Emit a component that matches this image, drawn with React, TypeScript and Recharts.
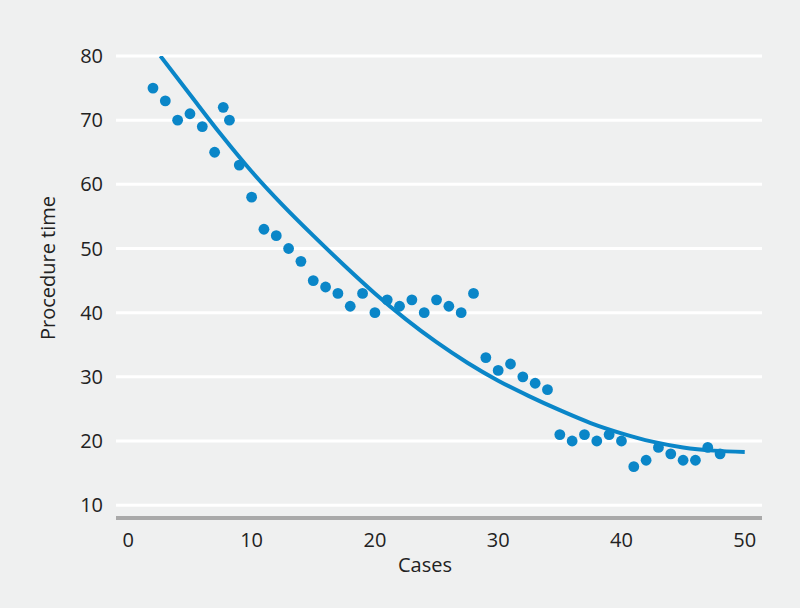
import {
  ComposedChart,
  Scatter,
  Line,
  XAxis,
  YAxis,
  CartesianGrid,
} from "recharts";

// observed cases (x) and procedure times (y)
const cases = [
  2, 3, 4, 5, 6, 7, 7.7, 8.2, 9, 10, 11, 12, 13, 14, 15, 16, 17, 18, 19, 20,
  21, 22, 23, 24, 25, 26, 27, 28, 29, 30, 31, 32, 33, 34, 35, 36, 37, 38, 39,
  40, 41, 42, 43, 44, 45, 46, 47, 48,
];
const times = [
  75, 73, 70, 71, 69, 65, 72, 70, 63, 58, 53, 52, 50, 48, 45, 44, 43, 41, 43,
  40, 42, 41, 42, 40, 42, 41, 40, 43, 33, 31, 32, 30, 29, 28, 21, 20, 21, 20,
  21, 20, 16, 17, 19, 18, 17, 17, 19, 18,
];

// trend curve
const trendCases = [
  2.6, 5, 7.5, 10, 12.5, 15, 17.5, 20, 22.5, 25, 27.5, 30, 32.5, 35, 37.5, 40,
  42.5, 45, 47.5, 50,
];
const trendTimes = [
  80, 74, 67.8, 62, 56.8, 52, 47.4, 43, 39, 35.4, 32.2, 29.4, 27, 24.8, 22.8,
  21.2, 19.9, 19, 18.5, 18.3,
];

const xTicks = [0, 10, 20, 30, 40, 50];
const yTicks = [10, 20, 30, 40, 50, 60, 70, 80];

const BLUE = "#0a86c8";
const TEXT = "#222";
const FONT = '"Open Sans", sans-serif';

const points = cases.map((x, i) => ({ x, y: times[i] }));
const trend = trendCases.map((x, i) => ({ x, y: trendTimes[i] }));

export default function App() {
  return (
    <div
      style={{
        position: "absolute",
        left: 0,
        top: 0,
        width: 800,
        height: 608,
        background: "#eff0f0",
        fontFamily: FONT,
      }}
    >
      <ComposedChart
        width={800}
        height={608}
        margin={{ top: 56, right: 38, bottom: 30, left: 0 }}
      >
        <CartesianGrid vertical={false} stroke="#ffffff" strokeWidth={3} />
        <XAxis
          type="number"
          dataKey="x"
          domain={[-1, 51.4]}
          ticks={xTicks}
          allowDataOverflow
          tickLine={false}
          tickMargin={9}
          height={60}
          axisLine={{ stroke: "#a9a9a9", strokeWidth: 4 }}
          tick={{ fill: TEXT, fontSize: 20, fontFamily: FONT }}
          label={{
            content: ({ viewBox }: any) => (
              <text
                x={viewBox.x + 309}
                y={viewBox.y + 54}
                textAnchor="middle"
                fill={TEXT}
                fontSize={20}
                fontFamily={FONT}
              >
                Cases
              </text>
            ),
          }}
        />
        <YAxis
          type="number"
          dataKey="y"
          domain={[8, 80]}
          ticks={yTicks}
          allowDataOverflow
          width={116}
          tickLine={false}
          axisLine={false}
          tickMargin={7}
          tick={{ fill: TEXT, fontSize: 20, fontFamily: FONT }}
          label={{
            content: ({ viewBox }: any) => (
              <text
                x={viewBox.x + 47}
                y={viewBox.y + 212}
                transform={`rotate(-90, ${viewBox.x + 47}, ${viewBox.y + 212})`}
                textAnchor="middle"
                dominantBaseline="central"
                fill={TEXT}
                fontSize={20}
                fontFamily={FONT}
              >
                Procedure time
              </text>
            ),
          }}
        />
        <Scatter
          data={points}
          dataKey="y"
          fill={BLUE}
          isAnimationActive={false}
          shape={(p: any) => <circle cx={p.cx} cy={p.cy} r={5.4} fill={BLUE} />}
        />
        <Line
          data={trend}
          dataKey="y"
          type="monotone"
          stroke={BLUE}
          strokeWidth={4}
          dot={false}
          activeDot={false}
          isAnimationActive={false}
        />
      </ComposedChart>
    </div>
  );
}
